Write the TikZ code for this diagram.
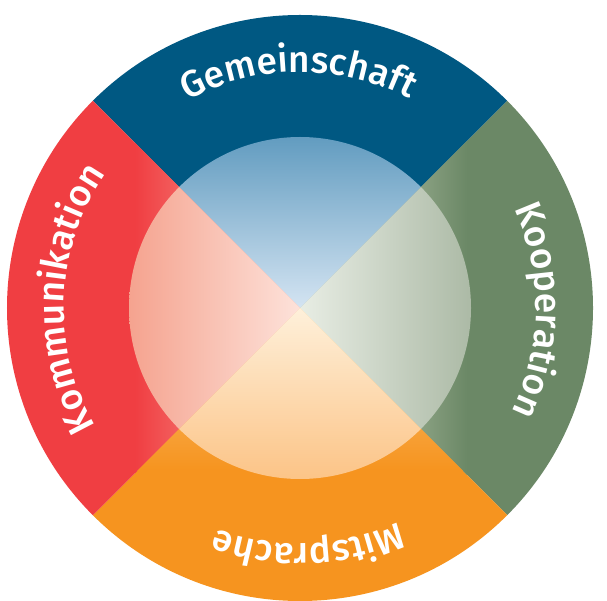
\documentclass[tikz,border=0pt]{standalone}
\usepackage{fontspec}
\newfontfamily\lbl{Fira Sans}[UprightFont={* Medium}]
\usetikzlibrary{decorations.text}
\definecolor{cblue}{RGB}{0,88,130}
\definecolor{cgreen}{RGB}{107,136,102}
\definecolor{cred}{RGB}{240,62,66}
\definecolor{corange}{RGB}{246,148,31}
\definecolor{redlight}{RGB}{250,184,170}
\definecolor{greenlight}{RGB}{215,222,200}
\definecolor{orangelight}{RGB}{250,200,130}
\definecolor{binA}{RGB}{98,156,192}
\definecolor{binB}{RGB}{212,228,242}
\definecolor{rinA}{RGB}{245,163,143}
\definecolor{rinB}{RGB}{253,226,218}
\definecolor{ginA}{RGB}{232,237,228}
\definecolor{ginB}{RGB}{172,186,166}
\definecolor{oinA}{RGB}{254,240,218}
\definecolor{oinB}{RGB}{252,196,135}
\begin{document}
\begin{tikzpicture}[x=1pt,y=1pt,
  lbltext/.style={decorate,decoration={text along path,text align=center,text color=white,
    text={|\lbl\fontsize{37}{37}\selectfont|#1}}}]
\useasboundingbox (0,0) rectangle (607,600);
\fill[white] (0,0) rectangle (607,600);
\coordinate (O) at (300,292);
\def\R{293pt}
\def\r{171pt}
\def\wedgeTop{(O) -- ([shift={(135:\R)}]O) arc[start angle=135,end angle=45,radius=\R] -- cycle}
\def\wedgeRight{(O) -- ([shift={(45:\R)}]O) arc[start angle=45,end angle=-45,radius=\R] -- cycle}
\def\wedgeBottom{(O) -- ([shift={(-45:\R)}]O) arc[start angle=-45,end angle=-135,radius=\R] -- cycle}
\def\wedgeLeft{(O) -- ([shift={(-135:\R)}]O) arc[start angle=-135,end angle=-225,radius=\R] -- cycle}
% outer quadrants
\fill[cblue] \wedgeTop;
\fill[cgreen] \wedgeRight;
\fill[corange] \wedgeBottom;
\fill[cred] \wedgeLeft;
% ring gradients
\begin{scope}
  \clip \wedgeLeft;
  \shade[left color=cred,right color=redlight] (135,0) rectangle (300,600);
\end{scope}
\begin{scope}
  \clip \wedgeRight;
  \shade[left color=greenlight,right color=cgreen] (300,0) rectangle (467,600);
\end{scope}
\begin{scope}
  \clip \wedgeBottom;
  \shade[top color=orangelight,bottom color=corange] (0,292) rectangle (607,130);
\end{scope}
% inner circle
\begin{scope}
  \clip (O) circle[radius=\r];
  \begin{scope}
    \clip \wedgeTop;
    \shade[top color=binA,bottom color=binB] (0,463) rectangle (607,292);
  \end{scope}
  \begin{scope}
    \clip \wedgeLeft;
    \shade[left color=rinA,right color=rinB] (129,0) rectangle (300,600);
  \end{scope}
  \begin{scope}
    \clip \wedgeRight;
    \shade[left color=ginA,right color=ginB] (300,0) rectangle (471,600);
  \end{scope}
  \begin{scope}
    \clip \wedgeBottom;
    \shade[top color=oinA,bottom color=oinB] (0,292) rectangle (607,121);
  \end{scope}
\end{scope}
% labels
\path[lbltext=Gemeinschaft] ([shift={(180.4:236pt)}]O) arc[start angle=180.4,end angle=0.4,radius=236pt];
\path[lbltext=Kooperation] ([shift={(89.4:236pt)}]O) arc[start angle=89.4,end angle=-90.6,radius=236pt];
\path[lbltext=Mitsprache] ([shift={(2:236pt)}]O) arc[start angle=2,end angle=-178,radius=236pt];
\path[lbltext=Kommunikation] ([shift={(267.7:236pt)}]O) arc[start angle=267.7,end angle=87.7,radius=236pt];
\end{tikzpicture}
\end{document}
